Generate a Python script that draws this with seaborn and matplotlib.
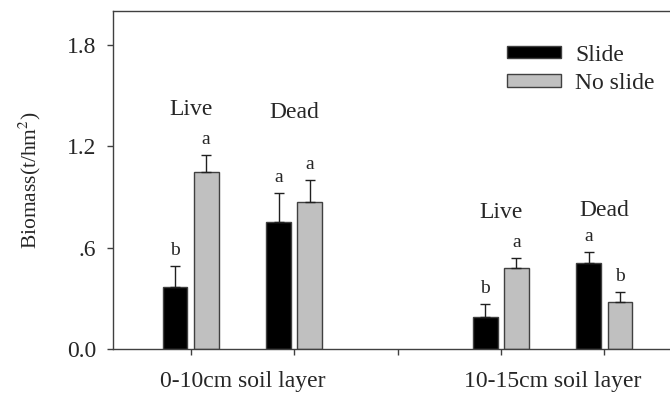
import numpy as np
import pandas as pd
import seaborn as sns
import matplotlib.pyplot as plt
from matplotlib.transforms import blended_transform_factory

# data
positions = [1, 2, 4, 5]              # Live/Dead in 0-10cm, Live/Dead in 10-15cm
kinds = ["Live", "Dead", "Live", "Dead"]
slide = [0.365, 0.752, 0.187, 0.506]
slide_err = [0.125, 0.174, 0.077, 0.069]
noslide = [1.048, 0.869, 0.480, 0.280]
noslide_err = [0.100, 0.130, 0.060, 0.055]
slide_letters = ["b", "a", "b", "a"]
noslide_letters = ["a", "a", "a", "b"]
kind_label_y = [1.42, 1.40, 0.81, 0.82]
layers = ["0-10cm soil layer", "10-15cm soil layer"]
layer_x = [1.5, 4.5]

df = pd.DataFrame({
    "pos": positions * 2,
    "biomass": slide + noslide,
    "treat": ["Slide"] * 4 + ["No slide"] * 4,
})

sns.set_style("ticks")
plt.rcParams["font.family"] = ["Liberation Serif", "DejaVu Serif"]
plt.rcParams["mathtext.fontset"] = "stix"

fig = plt.figure(figsize=(6.7, 4), dpi=100)
ax = fig.add_axes([113 / 670, 51 / 400, 569 / 670, 338 / 400])

sns.barplot(data=df, x="pos", y="biomass", hue="treat", native_scale=True,
            palette=["black", "#c0c0c0"], width=0.6, gap=0.2, errorbar=None,
            edgecolor="#404040", linewidth=1, ax=ax)

errs = [slide_err, noslide_err]
letters = [slide_letters, noslide_letters]
for cont, err, lets in zip(ax.containers, errs, letters):
    xs = [p.get_x() + p.get_width() / 2 for p in cont.patches]
    hs = [p.get_height() for p in cont.patches]
    ax.errorbar(xs, hs, yerr=[np.zeros(len(err)), err], fmt="none",
                ecolor="#202020", elinewidth=1, capsize=3.5, capthick=1)
    for x, h, e, t in zip(xs, hs, err, lets):
        ax.annotate(t, (x, h + e), xytext=(0, 5), textcoords="offset points",
                    ha="center", va="bottom", fontsize=14)

for x, y, k in zip(positions, kind_label_y, kinds):
    ax.text(x, y, k, ha="center", va="center", fontsize=17)

ax.set_xlim(0.25, 5.75)
ax.set_ylim(0, 2.0)
ax.set_xticks([1, 2, 3, 4, 5], labels=[""] * 5)
ax.set_yticks([0, 0.6, 1.2, 1.8], labels=["0.0", ".6", "1.2", "1.8"])
ax.tick_params(axis="both", length=4, width=1, color="#404040", labelsize=17)
ax.tick_params(axis="y", pad=8)
ax.set_xlabel("")
ax.set_ylabel("Biomass(t/hm$^2$)", fontsize=15.5, labelpad=17)

trans = blended_transform_factory(ax.transData, ax.transAxes)
for x, t in zip(layer_x, layers):
    ax.text(x, -0.095, t, transform=trans, ha="center", va="center", fontsize=17)

for s in ["left", "bottom", "top"]:
    ax.spines[s].set_color("#404040")
    ax.spines[s].set_linewidth(1)
ax.spines["right"].set_visible(False)

handles = list(ax.containers)
ax.legend(handles, ["Slide", "No slide"], frameon=False, fontsize=17,
          loc="upper left", bbox_to_anchor=(0.692, 0.90), borderaxespad=0,
          borderpad=0, handlelength=2.3, handleheight=0.42, handletextpad=0.6,
          labelspacing=0.3)

fig.savefig("out.png", dpi=100)
